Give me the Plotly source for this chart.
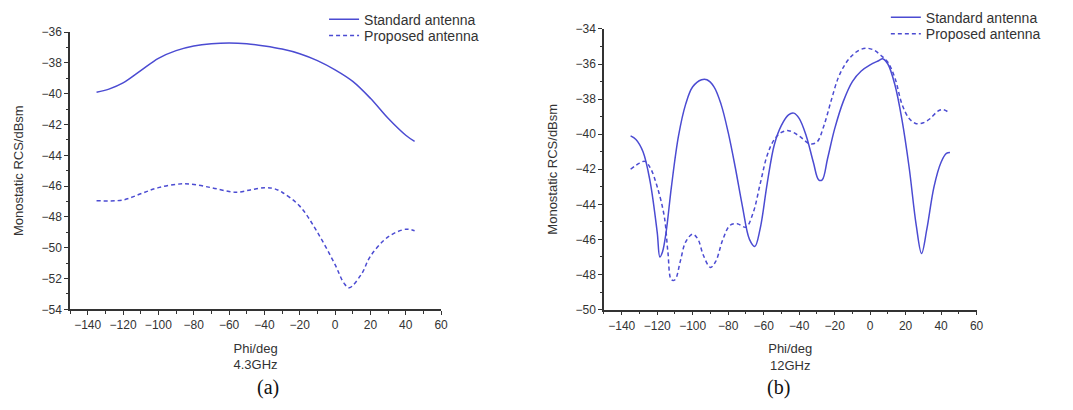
import plotly.graph_objects as go

# (a) 4.3 GHz
phi_a_std = [-135, -128, -120, -110, -100, -90, -80, -70, -60, -50, -40, -30, -20, -10, 0, 10, 20, 30, 40, 45]
rcs_a_std = [-39.9, -39.7, -39.3, -38.5, -37.7, -37.2, -36.9, -36.75, -36.7, -36.75, -36.9, -37.1, -37.4, -37.85, -38.45, -39.2, -40.3, -41.6, -42.7, -43.1]

phi_a_prop = [-135, -120, -110, -100, -85, -70, -60, -55, -48, -40, -35, -30, -20, -10, 0, 5, 8, 15, 20, 30, 40, 45]
rcs_a_prop = [-46.95, -46.9, -46.5, -46.1, -45.85, -46.1, -46.35, -46.4, -46.25, -46.1, -46.15, -46.4, -47.3, -49.0, -51.1, -52.3, -52.6, -51.7, -50.55, -49.3, -48.8, -48.9]

# (b) 12 GHz
phi_b_std = [-135, -132, -128, -124, -120, -118.5, -117, -115, -112, -108, -104, -100, -95, -92, -88, -84, -80, -76, -72, -68, -65, -62, -58, -54, -50, -46, -43, -40, -36, -32, -29, -27, -24, -20, -15, -10, -5, 0, 5, 7, 10, 14, 18, 22, 26, 29, 32, 36, 40, 43, 45]
rcs_b_std = [-40.1, -40.3, -41.0, -42.7, -45.6, -47.0, -46.7, -45.6, -43.0, -40.1, -38.3, -37.3, -36.9, -36.9, -37.3, -38.3, -39.9, -41.9, -44.1, -46.0, -46.4, -45.4, -42.8, -40.6, -39.5, -38.9, -38.8, -39.1, -40.1, -41.6, -42.6, -42.6, -41.4, -39.7, -38.1, -37.0, -36.4, -36.05, -35.8, -35.7, -36.0, -37.2, -39.2, -41.9, -45.2, -46.8, -45.4, -43.0, -41.6, -41.1, -41.05]

phi_b_prop = [-135, -130, -127, -124, -120, -116, -114, -112, -110, -107, -104, -100, -97, -94, -90, -87, -83, -79, -75, -70, -66, -62, -58, -54, -50, -46, -40, -34, -30, -26, -22, -18, -14, -10, -6, -2, 2, 6, 10, 14, 18, 22, 26, 30, 34, 38, 41, 45]
rcs_b_prop = [-42.0, -41.65, -41.55, -41.9, -43.0, -44.7, -46.7, -48.3, -48.3, -47.25, -46.15, -45.7, -46.0, -46.9, -47.6, -47.25, -46.0, -45.2, -45.1, -45.3, -44.5, -42.85, -41.2, -40.3, -39.9, -39.8, -40.1, -40.55, -40.45, -39.5, -38.1, -36.8, -36.0, -35.5, -35.2, -35.1, -35.2, -35.5, -35.9, -36.8, -38.3, -39.1, -39.4, -39.35, -39.1, -38.7, -38.6, -38.8]

x_ticks = [-140, -120, -100, -80, -60, -40, -20, 0, 20, 40, 60]
y_ticks_a = [-54, -52, -50, -48, -46, -44, -42, -40, -38, -36]
y_ticks_b = [-50, -48, -46, -44, -42, -40, -38, -36, -34]

names = ["Standard antenna", "Proposed antenna"]
color = "#4b4bd2"
font = "Arial, Liberation Sans, sans-serif"
dash = "4px,3px"

fig = go.Figure()
common = dict(mode="lines", line_shape="spline", showlegend=True)
fig.add_trace(go.Scatter(x=phi_a_std, y=rcs_a_std, name=names[0], xaxis="x", yaxis="y",
                         line=dict(color=color, width=1.5), legend="legend", **common))
fig.add_trace(go.Scatter(x=phi_a_prop, y=rcs_a_prop, name=names[1], xaxis="x", yaxis="y",
                         line=dict(color=color, width=1.5, dash=dash), legend="legend2", **common))
fig.add_trace(go.Scatter(x=phi_b_std, y=rcs_b_std, name=names[0], xaxis="x2", yaxis="y2",
                         line=dict(color=color, width=1.5), legend="legend3", **common))
fig.add_trace(go.Scatter(x=phi_b_prop, y=rcs_b_prop, name=names[1], xaxis="x2", yaxis="y2",
                         line=dict(color=color, width=1.5, dash=dash), legend="legend4", **common))

axis_style = dict(showgrid=False, zeroline=False, showline=True, linecolor="#333", linewidth=1.5,
                  ticks="outside", ticklen=4, tickwidth=1, tickcolor="#333",
                  tickfont=dict(family=font, size=12, color="#333"))

def xax(domain, anchor, title):
    return dict(domain=domain, anchor=anchor, range=[-150, 60], tickvals=x_ticks,
                minor=dict(dtick=10, tick0=0, ticks="outside", ticklen=2.5, tickcolor="#333"),
                title=dict(text=title, font=dict(family=font, size=13, color="#333"), standoff=12),
                **axis_style)

def yax(domain, anchor, rng, tv):
    return dict(domain=domain, anchor=anchor, range=rng, tickvals=tv,
                minor=dict(dtick=1, tick0=0, ticks="outside", ticklen=2.5, tickcolor="#333"),
                title=dict(text="Monostatic RCS/dBsm", font=dict(family=font, size=13, color="#333"), standoff=15),
                **axis_style)

def leg(x, ypix):
    return dict(x=x, y=1 - ypix / 410, xanchor="left", yanchor="middle", bgcolor="rgba(0,0,0,0)",
                font=dict(family=font, size=14, color="#333"), itemwidth=30)

fig.update_layout(
    width=1073, height=410, margin=dict(l=0, r=0, t=0, b=0),
    paper_bgcolor="white", plot_bgcolor="white", showlegend=True,
    xaxis=xax([0.0657, 0.4138], "y", "Phi/deg<br>4.3GHz"),
    yaxis=yax([0.2366, 0.9366], "x", [-54, -36], y_ticks_a),
    xaxis2=xax([0.5666, 0.9161], "y2", "Phi/deg<br>12GHz"),
    yaxis2=yax([0.2359, 0.9446], "x2", [-50, -34], y_ticks_b),
    legend=leg(0.304, 13),
    legend2=leg(0.304, 30),
    legend3=leg(0.831, 11),
    legend4=leg(0.831, 28),
    annotations=[
        dict(text="(a)", x=257/1073, y=1-394/410, xref="paper", yref="paper", showarrow=False,
             yanchor="middle",
             font=dict(family="Liberation Serif, Times New Roman, serif", size=20, color="#111")),
        dict(text="(b)", x=797/1073, y=1-394/410, xref="paper", yref="paper", showarrow=False,
             yanchor="middle",
             font=dict(family="Liberation Serif, Times New Roman, serif", size=20, color="#111")),
    ],
)

fig.write_html("out.html")
